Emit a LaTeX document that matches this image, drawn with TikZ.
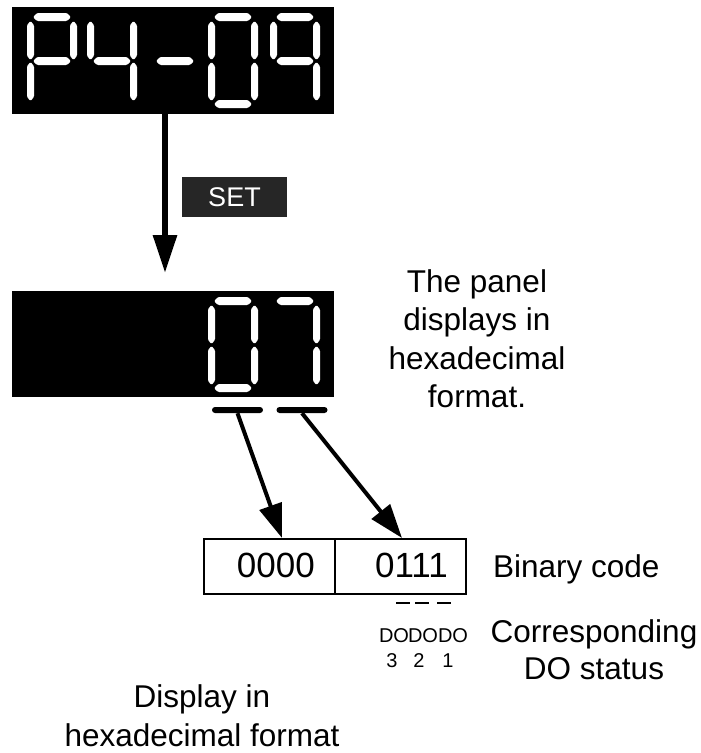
\documentclass[tikz,border=0pt]{standalone}
\usepackage{fontspec}
\setmainfont{Liberation Sans}
\usetikzlibrary{arrows.meta}
\newcommand\segA{(6,4)--(10,0)--(40,0)--(44,4)--(40,8)--(10,8)--cycle}
\newcommand\segG{(6,48)--(10,44)--(40,44)--(44,48)--(40,52)--(10,52)--cycle}
\newcommand\segD{(6,91)--(10,87)--(40,87)--(44,91)--(40,95)--(10,95)--cycle}
\newcommand\segF{(3.5,8)--(7,12)--(7,43)--(3.5,47)--(0,43)--(0,12)--cycle}
\newcommand\segE{(3.5,49)--(7,53)--(7,84)--(3.5,88)--(0,84)--(0,53)--cycle}
\newcommand\segB{(46.5,8)--(50,12)--(50,43)--(46.5,47)--(43,43)--(43,12)--cycle}
\newcommand\segC{(46.5,49)--(50,53)--(50,84)--(46.5,88)--(43,84)--(43,53)--cycle}
\tikzset{
  seg/.style={fill=white, rounded corners=1.2pt},
  digP/.pic={\fill[seg] \segA \segB \segF \segG \segE;},
  digfour/.pic={\fill[seg] \segF \segB \segG \segC;},
  digdash/.pic={\fill[seg] \segG;},
  digzero/.pic={\fill[seg] \segA \segB \segC \segD \segE \segF;},
  dignine/.pic={\fill[seg] \segA \segB \segC \segF \segG;},
  digseven/.pic={\fill[seg] \segA \segB \segC;},
  display/.style={fill=black, draw=none, minimum width=322pt, inner sep=0pt, anchor=north west},
  setkey/.style={fill=black!85, text=white, minimum width=105pt, minimum height=40pt, inner sep=0pt, font=\fontsize{27}{30}\selectfont},
  bigarrow/.style={line width=6pt, -{Triangle[length=38pt,width=23pt]}},
  smallarrow/.style={line width=4pt, -{Triangle[length=34pt,width=23pt]}},
  bar/.style={fill=black, rounded corners=3pt, minimum width=51pt, minimum height=6pt, inner sep=0pt},
  binbox/.style={draw=black, line width=1.5pt, minimum width=131pt, minimum height=55pt, inner sep=0pt, anchor=north west},
  bintext/.style={inner sep=0pt, anchor=base east, font=\fontsize{35}{40}\selectfont},
  label/.style={inner sep=0pt, anchor=base, font=\fontsize{31.5}{37}\selectfont},
  small/.style={inner sep=0pt, anchor=base, font=\fontsize{20}{22}\selectfont},
  dashmark/.style={line width=2pt}
}
\begin{document}
\begin{tikzpicture}[x=1pt,y=-1pt]
\useasboundingbox (0,0) rectangle (701,753);
% top display
\node[display, minimum height=107pt] (disp1) at (12,7) {};
\pic at (27,13) {digP};
\pic at (87,13) {digfour};
\pic at (150,13) {digdash};
\pic at (208,13) {digzero};
\pic at (270,13) {dignine};
% SET
\node[setkey] (set) at (234.5,197) {SET};
\coordinate (arrowtip) at (165,273);
\draw[bigarrow] (disp1.south west -| arrowtip) -- (arrowtip);
% second display
\node[display, minimum height=106pt] (disp2) at (12,291) {};
\pic at (208,297) {digzero};
\pic at (270,297) {digseven};
% bars
\node[bar] (barL) at (237.5,410) {};
\node[bar] (barR) at (302,410) {};
% binary boxes
\node[binbox] (boxL) at (203,538) {};
\node[binbox] (boxR) at (334,538) {};
\node[bintext] at (315,577) {0000};
\node[bintext] at (448,577) {0111};
\coordinate (tipL) at (282,538);
\coordinate (tipR) at (402,538);
\draw[smallarrow] (barL.south) -- (tipL);
\draw[smallarrow] (barR.south) -- (tipR);
% dashes
\draw[dashmark] (396,603) -- (410,603);
\draw[dashmark] (415,603) -- (429,603);
\draw[dashmark] (437,603) -- (451,603);
% DO labels
\node[small] at (394,642) {DO};
\node[small] at (423,642) {DO};
\node[small] at (453,642) {DO};
\node[small] at (392,667) {3};
\node[small] at (419,667) {2};
\node[small] at (448,667) {1};
% texts
\node[label] at (477,292) {The panel};
\node[label] at (477,330) {displays in};
\node[label] at (477,369) {hexadecimal};
\node[label] at (477,407) {format.};
\node[label, anchor=base west] at (493,577) {Binary code};
\node[label] at (594,642) {Corresponding};
\node[label] at (594,679) {DO status};
\node[label] at (202,707) {Display in};
\node[label] at (202,746) {hexadecimal format};
\end{tikzpicture}
\end{document}
